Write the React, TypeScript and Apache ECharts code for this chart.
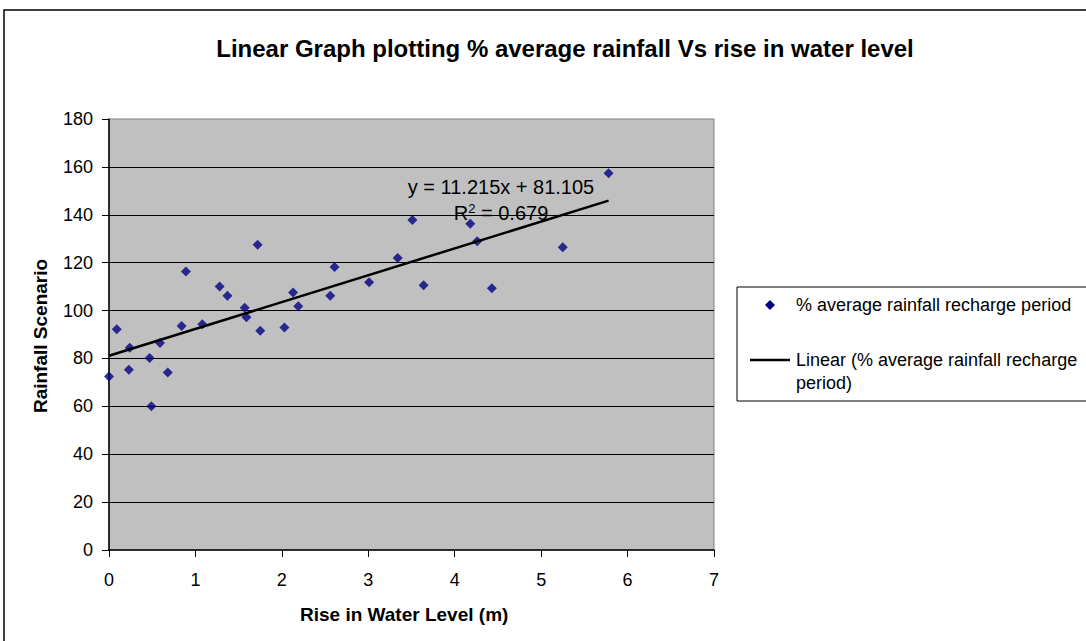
import React, { useEffect, useRef } from "react";
import * as echarts from "echarts";

const riseInWaterLevel = [
  0.0, 0.09, 0.24, 0.23, 0.47, 0.49, 0.59, 0.68, 0.84, 0.89, 1.08, 1.28, 1.37,
  1.57, 1.59, 1.72, 1.75, 2.03, 2.13, 2.19, 2.56, 2.61, 3.01, 3.34, 3.51, 3.64,
  4.18, 4.26, 4.43, 5.25, 5.78,
];
const rainfallScenario = [
  72.5, 92.2, 84.5, 75.3, 80.2, 60.0, 86.5, 74.1, 93.6, 116.3, 94.3, 110.0,
  106.2, 101.2, 97.2, 127.5, 91.6, 92.9, 107.5, 101.8, 106.2, 118.2, 111.8,
  122.0, 137.8, 110.6, 136.3, 128.9, 109.3, 126.4, 157.3,
];
const trendSlope = 11.215;
const trendIntercept = 81.105;
const rSquared = "0.679";

const FONT = "Arial, 'Liberation Sans', sans-serif";

export default function App() {
  const ref = useRef<HTMLDivElement>(null);
  useEffect(() => {
    if (!ref.current) return;
    const chart = echarts.init(ref.current, null, { renderer: "svg" });
    const points = riseInWaterLevel.map((x, i) => [x, rainfallScenario[i]]);
    const xMax = Math.max(...riseInWaterLevel);
    const trend = [
      [0, trendIntercept],
      [xMax, trendIntercept + trendSlope * xMax],
    ];
    chart.setOption({
      animation: false,
      backgroundColor: "#ffffff",
      title: {
        text: "Linear Graph plotting % average rainfall Vs rise in water level",
        left: 560,
        top: 31,
        textAlign: "center",
        textStyle: { fontFamily: FONT, fontSize: 24, fontWeight: "bold", color: "#000" },
      },
      grid: {
        left: 109,
        top: 119,
        right: 372,
        bottom: 91,
        show: true,
        backgroundColor: "#C0C0C0",
        borderColor: "#808080",
        borderWidth: 1,
      },
      xAxis: {
        type: "value",
        min: 0,
        max: 7,
        interval: 1,
        axisLine: { show: true, onZero: false, lineStyle: { color: "#000", width: 1.5 } },
        axisTick: { show: true, length: 7, lineStyle: { color: "#000" } },
        axisLabel: { fontFamily: FONT, fontSize: 18, color: "#000", margin: 21 },
        splitLine: { show: false },
      },
      yAxis: {
        type: "value",
        min: 0,
        max: 180,
        interval: 20,
        axisLine: { show: true, onZero: false, lineStyle: { color: "#000", width: 1.5 } },
        axisTick: { show: true, length: 7, lineStyle: { color: "#000" } },
        axisLabel: { fontFamily: FONT, fontSize: 18, color: "#000", margin: 16 },
        splitLine: {
          show: true,
          showMinLine: false,
          showMaxLine: false,
          lineStyle: { color: "#000", width: 1.2 },
        },
      },
      series: [
        {
          type: "scatter",
          name: "% average rainfall recharge period",
          data: points,
          symbol: "diamond",
          symbolSize: 10,
          itemStyle: { color: "#000080" },
          z: 3,
        },
        {
          type: "line",
          name: "Linear (% average rainfall recharge period)",
          data: trend,
          showSymbol: false,
          symbol: "none",
          lineStyle: { color: "#000", width: 2.5 },
          z: 4,
        },
      ],
      graphic: [
        {
          type: "rect",
          shape: { x: 4, y: 10, width: 1200, height: 800 },
          style: { fill: "none", stroke: "#000", lineWidth: 1.5 },
          z: 0,
          silent: true,
        },
        {
          type: "text",
          x: 300,
          y: 614,
          style: {
            text: "Rise in Water Level (m)",
            fontFamily: FONT,
            fontSize: 19,
            fontWeight: "bold",
            fill: "#000",
            align: "left",
            verticalAlign: "middle",
          },
        },
        {
          type: "text",
          x: 40,
          y: 336,
          rotation: Math.PI / 2,
          style: {
            text: "Rainfall Scenario",
            fontFamily: FONT,
            fontSize: 19,
            fontWeight: "bold",
            fill: "#000",
            align: "center",
            verticalAlign: "middle",
          },
        },
        {
          type: "text",
          x: 501,
          y: 187,
          style: {
            text: "y = 11.215x + 81.105",
            fontFamily: FONT,
            fontSize: 20,
            fill: "#000",
            align: "center",
            verticalAlign: "middle",
          },
          z: 10,
        },
        {
          type: "text",
          x: 501,
          y: 213,
          style: {
            text: "{a|R}{s|2}{a| = " + rSquared + "}",
            fontFamily: FONT,
            fill: "#000",
            align: "center",
            verticalAlign: "middle",
            rich: {
              a: { fontFamily: FONT, fontSize: 20, fill: "#000" },
              s: { fontFamily: FONT, fontSize: 13, fill: "#000", verticalAlign: "top", padding: [0, 0, 10, 0] },
            },
          },
          z: 10,
        },
        {
          type: "rect",
          shape: { x: 737, y: 287, width: 400, height: 114 },
          style: { fill: "#fff", stroke: "#000", lineWidth: 1 },
          z: 10,
        },
        {
          type: "polygon",
          shape: { points: [[770, 300], [775, 305], [770, 310], [765, 305]] },
          style: { fill: "#000080" },
          z: 11,
        },
        {
          type: "text",
          x: 796,
          y: 305,
          style: {
            text: "% average rainfall recharge period",
            fontFamily: FONT,
            fontSize: 18,
            fill: "#000",
            verticalAlign: "middle",
          },
          z: 11,
        },
        {
          type: "line",
          shape: { x1: 750, y1: 360, x2: 790, y2: 360 },
          style: { stroke: "#000", lineWidth: 2.5 },
          z: 11,
        },
        {
          type: "text",
          x: 796,
          y: 348,
          style: {
            text: "Linear (% average rainfall recharge\nperiod)",
            fontFamily: FONT,
            fontSize: 18,
            lineHeight: 23,
            fill: "#000",
            verticalAlign: "top",
          },
          z: 11,
        },
      ],
    });
    return () => chart.dispose();
  }, []);
  return (
    <div
      ref={ref}
      style={{ position: "fixed", left: 0, top: 0, width: 1086, height: 641, background: "#fff" }}
    />
  );
}
